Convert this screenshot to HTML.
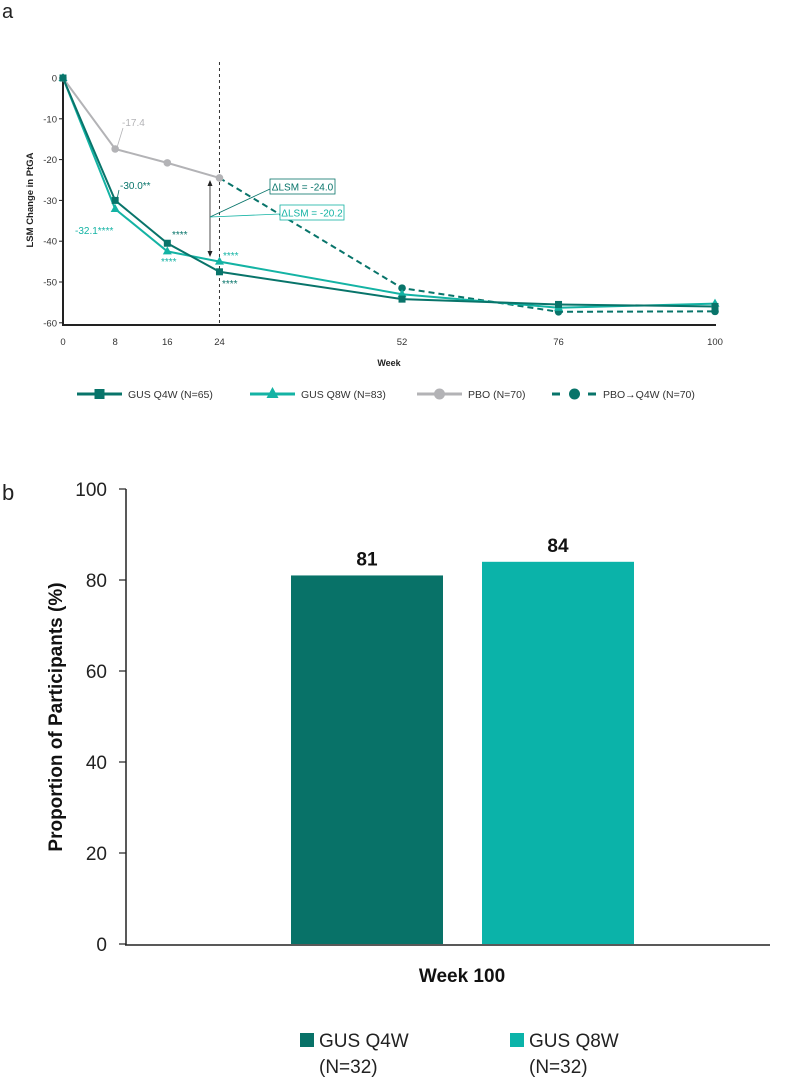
<!DOCTYPE html>
<html><head><meta charset="utf-8"><style>
body{margin:0;background:#fff;}
svg{display:block;font-family:"Liberation Sans",sans-serif;}
</style></head><body>
<svg id="s" width="797" height="1077" viewBox="0 0 797 1077" xmlns="http://www.w3.org/2000/svg">
<text x="2" y="18" font-size="20" fill="#222">a</text>
<text x="2" y="500" font-size="22" fill="#222">b</text>
<g id="a"></g>
<g id="b"></g>
</svg>
<script>
const weeks=[0,8,16,24,52,76,100];
const q4w=[0,-30.0,-40.5,-47.5,-54.2,-55.5,-56.0];
const q8w=[0,-32.1,-42.5,-45.0,-53.0,-56.3,-55.3];
const pboWeeks=[0,8,16,24];
const pbo=[0,-17.4,-20.8,-24.5];
const switchWeeks=[24,52,76,100];
const pboQ4w=[-24.5,-51.5,-57.3,-57.2];
const yTicksA=[0,-10,-20,-30,-40,-50,-60];
const barCats=["GUS Q4W","GUS Q8W"];
const barVals=[81,84];
const yTicksB=[0,20,40,60,80,100];

const NS="http://www.w3.org/2000/svg";
const DARK="#08746a",LIGHT="#14b3a4",GRAY="#b3b3b6";
function mk(parent,tag,attrs,txt){const e=document.createElementNS(NS,tag);for(const k in attrs)e.setAttribute(k,attrs[k]);if(txt!==undefined)e.textContent=txt;parent.appendChild(e);return e;}
const A=document.getElementById('a'),B=document.getElementById('b');
const xa=w=>63+w*6.52, ya=v=>78-v*4.08;

let ax=mk(A,'line',{x1:63,y1:74,x2:63,y2:325,stroke:'#222','stroke-width':2});

let bx=mk(A,'line',{x1:62,y1:325,x2:716,y2:325,stroke:'#222','stroke-width':2});

yTicksA.forEach(t=>{
 let l=mk(A,'line',{x1:59,y1:ya(t),x2:63,y2:ya(t),stroke:'#222','stroke-width':1});
 
 let tx=mk(A,'text',{x:57,y:ya(t)+3.5,'font-size':9.5,'text-anchor':'end',fill:'#333'},String(t));
 
});
weeks.forEach(w=>{
 let tx=mk(A,'text',{x:xa(w),y:345,'font-size':9.5,'text-anchor':'middle',fill:'#333'},String(w));
 
});
let xt=mk(A,'text',{x:389,y:366,'font-size':9,'font-weight':'bold','text-anchor':'middle',fill:'#222'},'Week');

let yt=mk(A,'text',{x:0,y:0,'font-size':9.5,'font-weight':'bold','text-anchor':'middle',fill:'#222',transform:'translate(33,200) rotate(-90)'},'LSM Change in PtGA');

let vd=mk(A,'line',{x1:xa(24),y1:62,x2:xa(24),y2:325,stroke:'#333','stroke-width':1,'stroke-dasharray':'3,3'});


function series(ws,vs,color,w,dash,name){
 const pts=ws.map((x,i)=>xa(x)+','+ya(vs[i])).join(' ');
 let p=mk(A,'polyline',{points:pts,fill:'none',stroke:color,'stroke-width':w,'stroke-dasharray':dash||'none'});
 
}
function markers(ws,vs,color,shape,name){
 ws.forEach((x,i)=>{
  const cx=xa(x),cy=ya(vs[i]);let m;
  if(shape==='sq')m=mk(A,'rect',{x:cx-3.5,y:cy-3.5,width:7,height:7,fill:color});
  else if(shape==='tri')m=mk(A,'polygon',{points:`${cx},${cy-5} ${cx-4.5},${cy+3} ${cx+4.5},${cy+3}`,fill:color});
  else m=mk(A,'circle',{cx:cx,cy:cy,r:3.8,fill:color});
  
 });
}
series(pboWeeks,pbo,GRAY,2,null,'pbo');
series(switchWeeks,pboQ4w,DARK,2,'6,4','pbo-q4w');
series(weeks,q8w,LIGHT,2,null,'gus-q8w');
series(weeks,q4w,DARK,2,null,'gus-q4w');
markers(pboWeeks,pbo,GRAY,'c','pbo');
markers(switchWeeks.slice(1),pboQ4w.slice(1),DARK,'c','pbo-q4w');
markers(weeks,q8w,LIGHT,'tri','gus-q8w');
markers(weeks,q4w,DARK,'sq','gus-q4w');

function T(x,y,t,c,n,anchor){let e=mk(A,'text',{x:x,y:y,'font-size':10,fill:c,'text-anchor':anchor||'start'},t);return e;}
T(122,126,'-17.4',GRAY,'label-pbo-week8');
mk(A,'line',{x1:xa(8)+2,y1:ya(pbo[1])-2,x2:123,y2:128,stroke:GRAY,'stroke-width':0.8});
T(120,189,'-30.0**',DARK,'label-q4w-week8');
mk(A,'line',{x1:xa(8)+2,y1:ya(q4w[1])-2,x2:119,y2:190,stroke:DARK,'stroke-width':0.8});
T(75,234,'-32.1****',LIGHT,'label-q8w-week8');
T(172,238,'****',DARK,'sig-q4w-week16');
T(161,265,'****',LIGHT,'sig-q8w-week16');
T(223,259,'****',LIGHT,'sig-q8w-week24');
T(222,287,'****',DARK,'sig-q4w-week24');
mk(A,'line',{x1:210,y1:183,x2:210,y2:254,stroke:'#222','stroke-width':0.8});
mk(A,'polygon',{points:'210,180 207.5,186 212.5,186',fill:'#222'});
mk(A,'polygon',{points:'210,257 207.5,251 212.5,251',fill:'#222'});
mk(A,'line',{x1:210,y1:217,x2:270,y2:189,stroke:DARK,'stroke-width':0.8});
mk(A,'line',{x1:210,y1:217,x2:280,y2:214,stroke:LIGHT,'stroke-width':0.8});
let b1=mk(A,'rect',{x:270,y:179,width:65,height:15,fill:'#fff',stroke:DARK,'stroke-width':0.8});

T(302.5,190.5,'ΔLSM = -24.0',DARK,'delta-lsm-q4w','middle');
let b2=mk(A,'rect',{x:280,y:205,width:64,height:15,fill:'#fff',stroke:LIGHT,'stroke-width':0.8});

T(312,216.5,'ΔLSM = -20.2',LIGHT,'delta-lsm-q8w','middle');

function legA(x,color,shape,dash,label,name){
 const g=mk(A,'g',{});
 mk(g,'line',{x1:x,y1:394,x2:x+45,y2:394,stroke:color,'stroke-width':3,'stroke-dasharray':dash||'none'});
 const c=x+22.5;
 if(shape==='sq')mk(g,'rect',{x:c-5,y:389,width:10,height:10,fill:color});
 else if(shape==='tri')mk(g,'polygon',{points:`${c},${387} ${c-6},${398} ${c+6},${398}`,fill:color});
 else mk(g,'circle',{cx:c,cy:394,r:5.5,fill:color});
 mk(g,'text',{x:x+51,y:398,'font-size':10.5,fill:'#333'},label);
}
legA(77,DARK,'sq',null,'GUS Q4W (N=65)','gus-q4w');
legA(250,LIGHT,'tri',null,'GUS Q8W (N=83)','gus-q8w');
legA(417,GRAY,'c',null,'PBO (N=70)','pbo');
legA(552,DARK,'c','8,10','PBO→Q4W (N=70)','pbo-q4w');

const yb=v=>944-v*4.55;
const barX=[291,482],barW=152;
let yax=mk(B,'line',{x1:126,y1:489,x2:126,y2:945,stroke:'#222','stroke-width':1.5});

let xax=mk(B,'line',{x1:125,y1:945,x2:770,y2:945,stroke:'#222','stroke-width':1.5});

yTicksB.forEach(t=>{
 let l=mk(B,'line',{x1:119,y1:yb(t),x2:126,y2:yb(t),stroke:'#222','stroke-width':1.2});
 
 let tx=mk(B,'text',{x:107,y:yb(t)+7,'font-size':19,'text-anchor':'end',fill:'#222'},String(t));
 
});
barVals.forEach((v,i)=>{
 let r=mk(B,'rect',{x:barX[i],y:yb(v),width:barW,height:yb(0)-yb(v),fill:i?'#0bb3a9':'#087268'});
 
 let t=mk(B,'text',{x:barX[i]+barW/2,y:yb(v)-10,'font-size':19,'font-weight':'bold','text-anchor':'middle',fill:'#111'},String(v));
 
});
let wk=mk(B,'text',{x:462,y:982,'font-size':19,'font-weight':'bold','text-anchor':'middle',fill:'#111'},'Week 100');

let ybt=mk(B,'text',{x:0,y:0,'font-size':19,'font-weight':'bold','text-anchor':'middle',fill:'#111',transform:'translate(62,717) rotate(-90)'},'Proportion of Participants (%)');

[[300,'#087268','GUS Q4W'],[510,'#0bb3a9','GUS Q8W']].forEach(([x,c,l],i)=>{
 const g=mk(B,'g',{});
 mk(g,'rect',{x:x,y:1033,width:14,height:14,fill:c});
 mk(g,'text',{x:x+19,y:1047,'font-size':19,fill:'#222'},l);
 mk(g,'text',{x:x+19,y:1073,'font-size':19,fill:'#222'},'(N=32)');
});
</script>
</body></html>
